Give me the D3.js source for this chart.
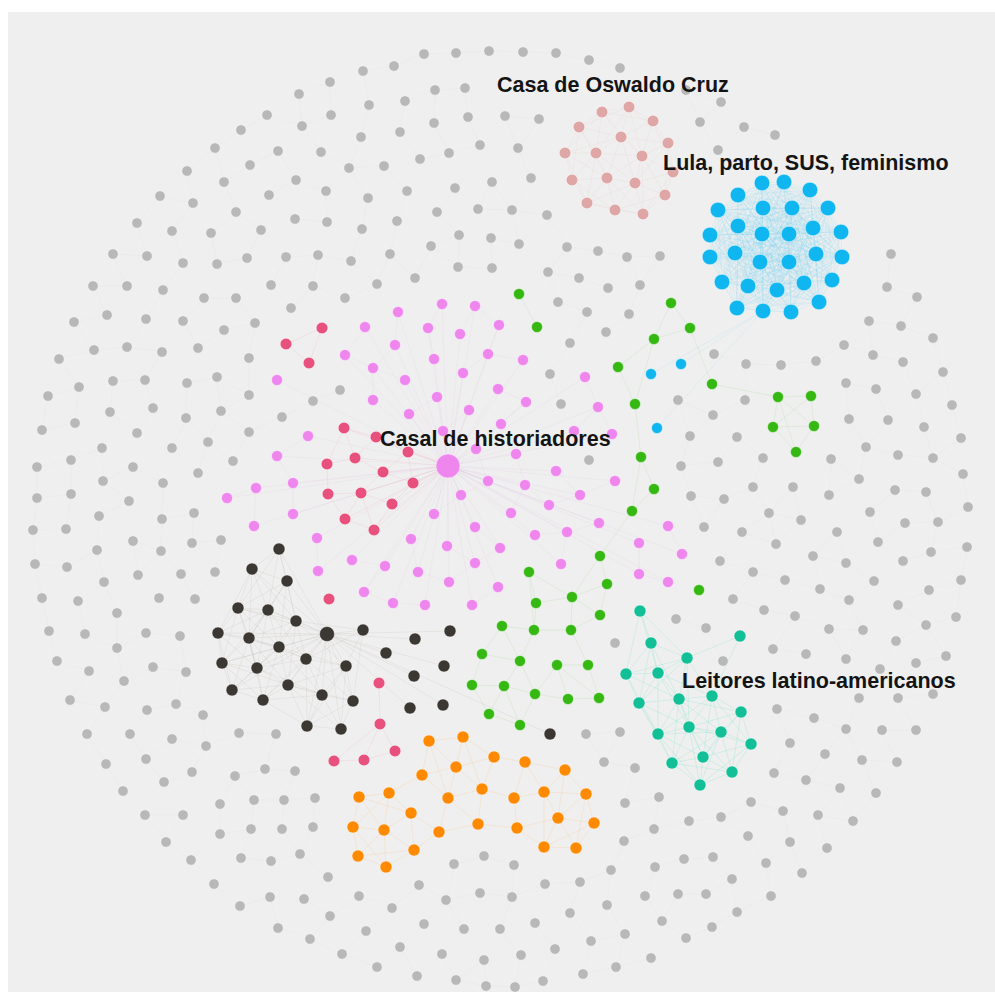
<!DOCTYPE html>
<html><head><meta charset="utf-8">
<script src="https://cdn.jsdelivr.net/npm/d3@7"></script>
<style>html,body{margin:0;padding:0;background:#fff;}svg{display:block;}</style>
</head><body>
<script>
// Node layout coordinates (layout units) per community
const greyNodes = [330,82,299,94,331,115,267,115,302,126,241,130,215,148,278,151,321,152,250,165,187,171,224,182,296,180,326,191,160,196,269,195,193,203,236,212,137,223,172,231,211,233,261,230,295,219,327,222,113,254,147,256,183,263,217,264,247,258,286,257,318,255,93,286,127,286,163,290,204,298,236,298,271,285,313,286,291,308,74,322,107,315,146,319,183,321,224,330,255,323,
424,54,456,53,489,51,523,52,556,53,589,60,620,68,394,66,363,71,435,90,465,88,369,105,405,101,434,123,468,117,505,116,539,119,361,137,400,132,449,153,480,145,518,148,349,168,384,166,420,159,531,178,492,182,455,188,407,191,368,198,437,212,478,209,512,210,547,215,397,221,362,229,431,246,459,235,491,238,519,244,567,247,598,251,627,257,660,256,390,254,351,261,458,267,492,268,548,272,579,278,608,288,640,285,415,278,377,284,345,298,558,302,587,312,629,314,606,332,
686,90,721,102,700,122,744,127,775,135,718,150,891,254,887,287,917,297,869,321,901,326,
59,359,94,350,127,347,162,352,198,348,249,358,48,396,79,387,113,381,145,380,187,383,217,377,249,395,313,401,42,430,75,423,110,412,153,408,186,418,221,411,282,417,249,432,137,433,102,448,172,448,208,442,233,461,37,467,71,460,133,467,103,481,163,483,198,473,37,498,71,494,129,501,99,516,162,519,194,513,33,530,66,529,133,541,97,550,161,551,192,543,221,540,35,564,67,567,104,582,138,575,181,574,215,572,42,598,78,601,117,613,159,598,195,599,49,631,85,634,146,633,180,636,117,648,57,661,
340,390,570,343,550,374,561,404,589,460,615,643,
933,338,844,345,873,355,903,362,943,372,714,354,746,364,781,365,816,361,846,383,876,389,916,394,952,405,678,400,745,400,713,415,849,419,888,420,924,427,961,438,690,436,737,437,866,447,898,455,933,458,681,466,718,462,763,458,831,459,963,474,859,479,895,490,926,492,753,487,793,487,829,495,691,496,724,499,968,507,870,512,769,513,801,520,938,522,905,523,837,532,704,527,742,532,878,542,967,547,776,544,813,556,846,563,903,561,931,552,720,561,753,572,785,580,820,589,874,581,961,580,929,590,733,599,764,610,849,600,898,605,795,616,956,617,676,619,706,628,829,629,863,630,926,625,896,641,773,649,806,654,946,656,846,659,723,661,916,663,
89,671,124,681,153,667,186,672,70,700,105,707,147,710,176,704,203,715,87,734,130,734,172,739,206,746,239,733,276,734,106,764,146,759,192,772,164,782,235,776,265,769,295,771,123,791,220,804,254,800,284,800,315,798,145,815,183,815,220,834,251,829,282,829,313,827,166,842,191,860,241,858,271,861,300,854,328,877,214,884,240,906,270,897,304,899,330,916,278,928,310,939,
586,734,620,732,604,762,635,768,659,797,625,803,654,829,624,841,484,856,454,864,514,865,611,870,655,867,419,885,545,884,580,882,359,896,392,908,446,900,480,893,512,897,645,896,607,905,570,913,424,924,366,931,464,929,500,929,535,923,591,941,625,934,662,921,342,954,400,947,442,954,484,960,521,955,555,949,616,967,651,958,377,967,417,976,456,980,486,986,515,987,543,981,583,974,
880,669,777,709,814,718,859,698,898,698,933,694,846,729,882,730,916,730,790,743,825,754,862,760,897,762,774,773,806,780,840,788,876,793,751,802,783,811,818,815,853,821,689,821,721,817,748,836,790,842,827,848,684,859,713,857,766,863,802,873,732,879,678,894,706,894,771,896,737,912,712,927,686,938];

const historiadoresNodes = [442,304,475,306,398,312,365,327,428,328,499,325,460,334,277,380,308,436,277,456,293,483,256,488,227,498,293,514,254,526,317,538,318,571,345,355,395,345,434,359,488,354,523,360,373,368,405,380,463,373,498,389,585,377,373,400,437,397,469,410,526,402,598,407,409,414,501,424,443,431,476,449,516,454,574,431,612,434,488,481,525,485,556,471,615,481,461,495,549,505,580,495,511,513,434,514,475,527,535,535,567,532,599,523,639,543,411,539,447,546,500,548,561,564,639,574,352,560,385,566,418,572,475,563,449,582,498,587,364,592,393,603,425,605,472,605,668,526,682,554,668,582];
const historiadoresHub = [448,466];

const crimsonNodes = [322,328,286,344,309,363,344,428,376,437,408,452,355,458,383,472,413,483,361,493,392,504,345,519,374,530,327,464,328,494,329,599,379,683,380,724,395,751,364,760,334,761];

const greenNodes = [519,294,537,327,671,303,690,328,654,339,618,367,635,404,641,457,654,489,632,511,600,556,607,584,529,572,572,597,536,603,600,615,502,626,534,630,571,630,482,654,520,661,557,665,588,665,472,685,504,686,535,694,568,699,599,698,489,714,520,725,712,384,699,590,778,397,811,396,773,427,814,426,796,452];

const lulaNodes = [762,183,784,182,810,190,738,195,718,210,763,208,792,208,828,208,738,226,762,234,789,234,813,228,841,232,710,235,710,257,735,253,760,262,789,262,816,254,842,257,722,282,748,286,777,290,804,283,832,280,737,308,763,311,791,312,819,302];
const lulaBridgeNodes = [681,364,651,374,657,428];

const leitoresNodes = [640,611,651,643,740,636,687,658,626,674,658,673,639,703,658,734,679,699,712,696,741,712,689,727,721,732,751,744,672,763,703,757,732,772,700,785];

const orangeNodes = [463,737,429,741,494,757,525,762,456,767,565,770,422,775,482,789,389,793,359,797,448,798,514,798,544,792,586,794,411,813,558,818,594,823,353,827,384,830,439,832,478,824,517,828,544,847,576,848,414,850,358,856,386,867];

const darkNodes = [279,549,252,569,287,581,238,608,268,610,296,621,363,630,218,633,249,638,279,647,306,659,222,663,257,668,346,666,232,690,288,685,263,700,322,695,353,701,307,726,341,729,415,639,450,631,386,653,444,666,414,676,410,708,443,705,550,734];
const darkHub = [327,634];

const oswaldoNodes = [602,112,629,107,653,121,579,127,621,137,565,153,596,153,642,156,572,180,607,178,635,183,587,203,615,210,643,214,668,143,673,172,665,195];

const labelTexts = ["Casa de Oswaldo Cruz", "Lula, parto, SUS, feminismo", "Casal de historiadores", "Leitores latino-americanos"];
const labelAnchors = [497,92, 663,170, 380,446, 682,688];

// ---- rendering ----
const W = 995, H = 992;
const x = d3.scaleLinear().domain([0, 995]).range([0, W]);
const y = d3.scaleLinear().domain([0, 992]).range([0, H]);
const pairs = a => d3.range(0, a.length, 2).map(i => [a[i], a[i+1]]);

const style = {
  grey:     {fill:"#b8b8b8", r:5.2, link:"#a0a0a0", lo:0.05},
  hist:     {fill:"#ee86ee", r:5.5, link:"#d9a0d9", lo:0.12},
  crimson:  {fill:"#e8507e", r:5.8, link:"#f08aa8", lo:0.18},
  green:    {fill:"#36b812", r:5.5, link:"#8ed07a", lo:0.22},
  lula:     {fill:"#0fb6ef", r:7.8, link:"#5fd0f5", lo:0.16},
  leitores: {fill:"#12bf97", r:6,   link:"#6fe0c6", lo:0.30},
  orange:   {fill:"#ff8a00", r:6,   link:"#ffc080", lo:0.30},
  dark:     {fill:"#3b3833", r:6,   link:"#a8a49c", lo:0.18},
  oswaldo:  {fill:"#dea7a6", r:5.8, link:"#e8c0bf", lo:0.20}
};

const svg = d3.select("body").append("svg").attr("width", W).attr("height", H);
svg.append("rect").attr("x", x(8)).attr("y", y(12)).attr("width", x(995) - x(8)).attr("height", y(992) - y(12)).attr("fill", "#efefef");

function knn(pts, k, maxD) {
  const out = [], seen = new Set();
  pts.forEach((p, i) => {
    pts.map((q, j) => [j, Math.hypot(p[0]-q[0], p[1]-q[1])])
      .filter(e => e[0] !== i && e[1] <= maxD)
      .sort((a, b) => a[1] - b[1]).slice(0, k)
      .forEach(([j]) => {
        const key = i < j ? i + "-" + j : j + "-" + i;
        if (!seen.has(key)) { seen.add(key); out.push([p, pts[j]]); }
      });
  });
  return out;
}
function allPairs(pts, maxD) {
  const out = [];
  for (let i = 0; i < pts.length; i++) for (let j = i+1; j < pts.length; j++)
    if (Math.hypot(pts[i][0]-pts[j][0], pts[i][1]-pts[j][1]) <= maxD) out.push([pts[i], pts[j]]);
  return out;
}

const G = {
  grey: pairs(greyNodes), hist: pairs(historiadoresNodes), crimson: pairs(crimsonNodes),
  green: pairs(greenNodes), lula: pairs(lulaNodes), lulaB: pairs(lulaBridgeNodes),
  leitores: pairs(leitoresNodes), orange: pairs(orangeNodes), dark: pairs(darkNodes),
  oswaldo: pairs(oswaldoNodes)
};
const hHub = historiadoresHub, dHub = darkHub;

const linkSets = [
  {key:"grey", links: knn(G.grey, 2, 40)},
  {key:"hist", links: G.hist.map(p => [hHub, p]).concat(knn(G.hist, 1, 40))},
  {key:"crimson", links: knn(G.crimson, 3, 60).concat(G.crimson.slice(3, 13).map(p => [hHub, p]))},
  {key:"green", links: knn(G.green, 3, 70)},
  {key:"lula", links: allPairs(G.lula, 140).concat(G.lulaB.map(p => [G.lula[26], p]))},
  {key:"leitores", links: allPairs(G.leitores, 70)},
  {key:"orange", links: knn(G.orange, 4, 70)},
  {key:"dark", links: allPairs(G.dark.slice(0, 21), 75).concat(G.dark.map(p => [dHub, p]))},
  {key:"oswaldo", links: allPairs(G.oswaldo, 60)}
];

const gl = svg.append("g").attr("fill", "none");
linkSets.forEach(s => {
  gl.append("g").attr("stroke", style[s.key].link).attr("stroke-opacity", style[s.key].lo).attr("stroke-width", 0.8)
    .selectAll("line").data(s.links).join("line")
    .attr("x1", d => x(d[0][0])).attr("y1", d => y(d[0][1]))
    .attr("x2", d => x(d[1][0])).attr("y2", d => y(d[1][1]));
});

function drawNodes(pts, key, r) {
  svg.append("g").selectAll("circle").data(pts).join("circle")
    .attr("cx", d => x(d[0])).attr("cy", d => y(d[1]))
    .attr("r", r || style[key].r).attr("fill", style[key].fill)
    .attr("stroke", "#ffffff").attr("stroke-opacity", 0.45).attr("stroke-width", 1);
}
drawNodes(G.grey, "grey");
drawNodes(G.oswaldo, "oswaldo");
drawNodes(G.lula, "lula");
drawNodes(G.lulaB, "lula", 5.5);
drawNodes(G.hist, "hist");
drawNodes(G.crimson, "crimson");
drawNodes(G.green, "green");
drawNodes(G.leitores, "leitores");
drawNodes(G.orange, "orange");
drawNodes(G.dark, "dark");
drawNodes([dHub], "dark", 7.5);
drawNodes([hHub], "hist", 12);

const la = pairs(labelAnchors);
svg.append("g").selectAll("text").data(labelTexts).join("text")
  .attr("x", (d, i) => x(la[i][0])).attr("y", (d, i) => y(la[i][1]))
  .attr("font-family", "Arial, 'Liberation Sans', sans-serif")
  .attr("font-weight", "bold").attr("font-size", 21.5).attr("fill", "#141414")
  .text(d => d);
</script>
</body></html>
